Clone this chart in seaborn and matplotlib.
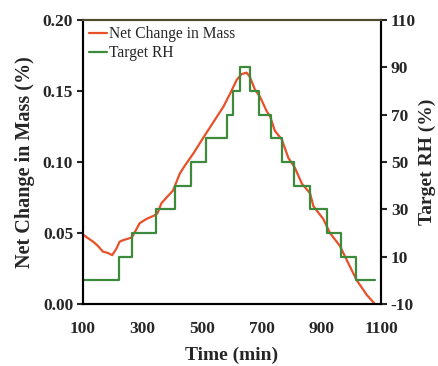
import pandas as pd
import matplotlib.pyplot as plt
import seaborn as sns

# valores
tempo_massa = [100, 120, 134, 150, 167, 184, 198, 212, 223, 234, 250, 264, 280, 290, 313, 340, 350,
               363, 380, 402, 425, 440, 470, 503, 537, 571, 593, 616, 632, 649, 660, 677, 694,
               716, 728, 744, 767, 789, 811, 834, 862, 873, 906, 929, 962, 985, 1018, 1052, 1080]
massa = [0.049, 0.046, 0.044, 0.041, 0.037, 0.036, 0.0345, 0.039, 0.044, 0.045, 0.046, 0.047, 0.053, 0.057,
         0.060, 0.0625, 0.064, 0.071, 0.075, 0.080, 0.092, 0.097, 0.106, 0.117, 0.128, 0.139, 0.148,
         0.158, 0.162, 0.163, 0.160, 0.151, 0.146, 0.136, 0.132, 0.122, 0.116, 0.103, 0.096, 0.085,
         0.078, 0.069, 0.060, 0.050, 0.041, 0.031, 0.017, 0.0065, 0.0]

tempo_rh = [100, 220, 264, 346, 409, 462, 513, 584, 604, 627, 660, 692, 731, 767, 808, 861, 918, 966, 1016, 1080]
rh = [0, 10, 20, 30, 40, 50, 60, 70, 80, 90, 80, 70, 60, 50, 40, 30, 20, 10, 0, 0]

df_massa = pd.DataFrame({'Tempo': tempo_massa, 'Massa': massa})
df_rh = pd.DataFrame({'Tempo': tempo_rh, 'RH': rh})

sns.set_style('white')
plt.rcParams['font.family'] = ['Liberation Serif', 'DejaVu Serif']
plt.rcParams['axes.unicode_minus'] = False

fig = plt.figure(figsize=(4.39, 3.66), dpi=100)
ax = fig.add_axes([0.189, 0.169, 0.679, 0.776])
ax2 = ax.twinx()

sns.lineplot(data=df_massa, x='Tempo', y='Massa', ax=ax, color='#e8502a', linewidth=1.6,
             label='Net Change in Mass', legend=False)
sns.lineplot(data=df_rh, x='Tempo', y='RH', ax=ax2, color='#3d8a3d', linewidth=1.6,
             drawstyle='steps-post', label='Target RH', legend=False)

ax.set_xlim(100, 1100)
ax.set_ylim(0, 0.20)
ax2.set_ylim(-10, 110)
ax.set_xticks([100, 300, 500, 700, 900, 1100])
ax.set_yticks([0.00, 0.05, 0.10, 0.15, 0.20])
ax.set_yticklabels(['0.00', '0.05', '0.10', '0.15', '0.20'])
ax2.set_yticks([-10, 10, 30, 50, 70, 90, 110])

ax.set_xlabel('Time (min)', fontsize=14, fontweight='bold', labelpad=7)
ax.set_ylabel('Net Change in Mass (%)', fontsize=14.5, fontweight='bold', labelpad=6)
ax2.set_ylabel('Target RH (%)', fontsize=14, fontweight='bold', labelpad=2)

for a in [ax, ax2]:
    for lab in a.get_xticklabels() + a.get_yticklabels():
        lab.set_fontweight('bold')
        lab.set_fontsize(12.5)
    for s in a.spines.values():
        s.set_linewidth(1.5)
        s.set_color('black')
    a.spines['top'].set_color('#4d4a2e')

ax.tick_params(axis='x', direction='in', length=4, width=1.5, pad=12)
ax.tick_params(axis='y', direction='out', length=4, width=1.5, left=True, pad=3)
ax2.tick_params(axis='y', direction='out', length=4, width=1.5, right=True, pad=3)

h1, l1 = ax.get_legend_handles_labels()
h2, l2 = ax2.get_legend_handles_labels()
ax.legend(h1 + h2, l1 + l2, loc='upper left', frameon=False, fontsize=11.2,
          handlelength=1.15, handletextpad=0.15, labelspacing=0.2,
          borderaxespad=0.2, borderpad=0.2)

plt.savefig('out.png', dpi=100)
